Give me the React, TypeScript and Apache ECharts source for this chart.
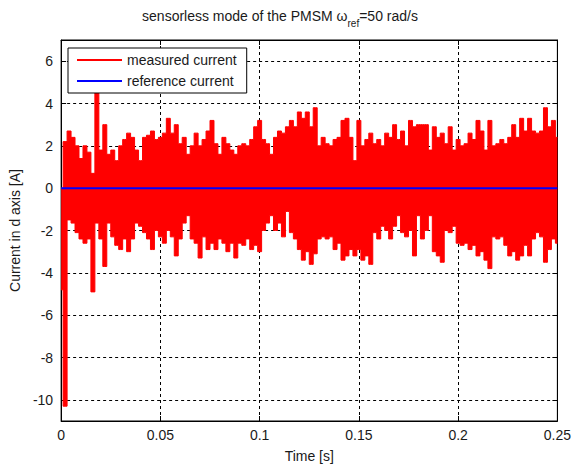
import React, { useEffect, useRef } from "react";
import * as echarts from "echarts";

// sample step of the envelope arrays (s)
const TIME_STEP = 0.002;

// upper envelope of the measured d-axis current [A]
const measuredUpper = [
  0, 2.2, 2.7, 2.4, 2.0, 1.4, 2.0, 1.7, 0.7, 4.5,
  1.8, 3.0, 1.6, 1.8, 1.3, 2.0, 2.3, 2.6, 2.4, 1.8,
  1.3, 2.4, 2.5, 2.7, 2.3, 2.4, 2.6, 3.3, 2.6, 3.0,
  2.1, 2.4, 1.6, 2.0, 2.6, 2.0, 2.3, 2.7, 3.2, 2.1,
  1.6, 2.4, 2.1, 1.8, 1.6, 2.0, 2.1, 2.0, 2.3, 2.9,
  3.2, 2.3, 2.1, 1.6, 2.4, 2.7, 2.6, 2.9, 3.2, 2.9,
  3.6, 3.3, 3.6, 2.9, 3.8, 2.0, 2.4, 2.1, 2.0, 2.3,
  2.4, 3.2, 3.3, 2.4, 1.3, 3.2, 2.0, 2.3, 2.6, 2.1,
  2.3, 2.0, 2.6, 2.4, 3.0, 2.3, 2.7, 2.0, 3.2, 2.9,
  3.0, 3.0, 3.0, 1.8, 2.9, 2.4, 2.6, 2.1, 2.9, 1.8,
  2.3, 2.0, 2.1, 2.6, 2.3, 3.2, 2.7, 1.8, 3.2, 2.0,
  2.1, 2.3, 2.1, 2.4, 3.0, 2.4, 3.3, 2.7, 3.3, 2.7,
  2.6, 2.7, 3.8, 2.9, 3.2, 2.4,
];

// lower envelope of the measured d-axis current [A]
const measuredLower = [
  -4.8, -10.3, -1.5, -1.65, -2.1, -2.4, -2.6, -2.4, -4.9, -1.65,
  -2.4, -3.7, -1.65, -2.3, -2.7, -2.9, -2.4, -3.0, -2.4, -1.65,
  -1.8, -2.1, -2.4, -2.9, -2.0, -2.3, -2.6, -2.0, -2.3, -3.2,
  -2.4, -1.65, -1.3, -2.4, -2.6, -3.3, -2.3, -2.9, -2.6, -2.9,
  -2.4, -2.6, -3.0, -2.6, -3.3, -2.6, -2.7, -2.4, -2.9, -2.7,
  -3.0, -2.0, -1.65, -1.3, -2.0, -1.65, -2.3, -1.1, -2.1, -2.4,
  -2.9, -3.4, -3.0, -3.6, -3.1, -2.4, -2.3, -2.4, -2.3, -2.9,
  -2.6, -3.4, -3.2, -2.9, -3.2, -2.9, -3.4, -3.2, -3.6, -2.1,
  -2.4, -1.8, -2.0, -2.4, -1.8, -1.3, -2.1, -2.3, -2.0, -3.2,
  -1.3, -2.4, -2.0, -1.3, -3.0, -3.2, -3.5, -2.0, -2.1, -1.8,
  -2.6, -2.7, -2.6, -2.9, -2.7, -3.2, -3.0, -3.4, -3.8, -2.3,
  -2.4, -2.3, -2.7, -3.2, -3.0, -3.4, -3.2, -2.7, -3.2, -2.4,
  -2.1, -2.3, -3.5, -2.9, -2.4, -2.6,
];

// reference current [A]
const referenceTimes = [0, 0.25];
const referenceValues = [0, 0];

const xTicks = [0, 0.05, 0.1, 0.15, 0.2, 0.25];
const yTicks = [-10, -8, -6, -4, -2, 0, 2, 4, 6];

const FONT = "Liberation Sans, Arial, sans-serif";

export default function App() {
  const ref = useRef<HTMLDivElement>(null);
  useEffect(() => {
    if (!ref.current) return;
    const chart = echarts.init(ref.current, undefined, { renderer: "svg" });
    const upperData = measuredUpper.map((v, i) => [i * TIME_STEP, v]);
    const lowerData = measuredLower.map((v, i) => [i * TIME_STEP, v]);
    const refData = referenceTimes.map((t, i) => [t, referenceValues[i]]);

    const axisText = { color: "#1a1a1a", fontSize: 14, fontFamily: FONT };
    const gridLine = { show: true, lineStyle: { color: "#000", width: 1, type: [3, 3] as any } };

    chart.setOption({
      animation: false,
      backgroundColor: "#fff",
      title: {
        text: "{a|sensorless mode of the PMSM ω}{s|ref}{a|=50 rad/s}",
        left: 280,
        textAlign: "center",
        top: 9,
        padding: 0,
        textStyle: {
          fontWeight: "normal",
          rich: {
            a: { fontSize: 14, fontWeight: "normal", fontFamily: FONT, color: "#1a1a1a", lineHeight: 14, verticalAlign: "top" },
            s: { fontSize: 10, fontWeight: "normal", fontFamily: FONT, color: "#1a1a1a", lineHeight: 19, verticalAlign: "bottom" },
          },
        },
      },
      legend: {
        left: 68,
        top: 48,
        orient: "vertical",
        backgroundColor: "#fff",
        borderColor: "#000",
        borderWidth: 1,
        borderRadius: 0,
        padding: [5, 10, 5, 9],
        itemGap: 7,
        itemWidth: 45,
        itemHeight: 2,
        textStyle: { color: "#1a1a1a", fontSize: 14, fontFamily: FONT },
        data: [
          { name: "measured current", icon: "rect", itemStyle: { color: "#ff0000" } },
          { name: "reference current", icon: "rect", itemStyle: { color: "#0000ff" } },
        ],
      },
      grid: { left: 60, right: 15, top: 40, bottom: 41, show: true, borderColor: "#000", borderWidth: 1, backgroundColor: "#fff" },
      xAxis: [
        {
          type: "value",
          min: 0,
          max: 0.25,
          interval: 0.05,
          name: "Time [s]",
          nameLocation: "middle",
          nameGap: 28,
          nameTextStyle: axisText,
          axisLine: { show: true, onZero: false, lineStyle: { color: "#000" } },
          axisTick: { show: true, inside: true, length: 5, lineStyle: { color: "#000" } },
          axisLabel: { ...axisText, margin: 7, customValues: xTicks },
          splitLine: gridLine,
        },
        {
          type: "value",
          position: "top",
          min: 0,
          max: 0.25,
          interval: 0.05,
          axisLine: { show: true, onZero: false, lineStyle: { color: "#000" } },
          axisTick: { show: true, inside: true, length: 5, lineStyle: { color: "#000" } },
          axisLabel: { show: false },
          splitLine: { show: false },
        },
      ],
      yAxis: [
        {
          type: "value",
          min: -11,
          max: 7,
          name: "Current in d axis [A]",
          nameLocation: "middle",
          nameGap: 37,
          nameTextStyle: axisText,
          axisLine: { show: true, onZero: false, lineStyle: { color: "#000" } },
          axisTick: { show: true, inside: true, length: 5, lineStyle: { color: "#000" }, customValues: yTicks },
          axisLabel: { ...axisText, margin: 8, customValues: yTicks },
          splitLine: gridLine,
        },
        {
          type: "value",
          position: "right",
          min: -11,
          max: 7,
          axisLine: { show: true, onZero: false, lineStyle: { color: "#000" } },
          axisTick: { show: true, inside: true, length: 5, lineStyle: { color: "#000" }, customValues: yTicks },
          axisLabel: { show: false, customValues: yTicks },
          splitLine: { show: false },
        },
      ],
      series: [
        {
          name: "measured current",
          type: "line",
          data: upperData,
          symbol: "none",
          step: "middle",
          lineStyle: { color: "#ff0000", width: 1 },
          itemStyle: { color: "#ff0000" },
          areaStyle: { color: "#ff0000", opacity: 1, origin: 0 },
          z: 2,
        },
        {
          name: "measured current",
          type: "line",
          data: lowerData,
          symbol: "none",
          step: "middle",
          lineStyle: { color: "#ff0000", width: 1 },
          itemStyle: { color: "#ff0000" },
          areaStyle: { color: "#ff0000", opacity: 1, origin: 0 },
          z: 2,
        },
        {
          name: "reference current",
          type: "line",
          data: refData,
          symbol: "none",
          lineStyle: { color: "#0000ff", width: 2 },
          itemStyle: { color: "#0000ff" },
          z: 3,
        },
      ],
    });
    return () => chart.dispose();
  }, []);
  return <div ref={ref} style={{ width: 574, height: 468, position: "absolute", left: 0, top: 0 }} />;
}
